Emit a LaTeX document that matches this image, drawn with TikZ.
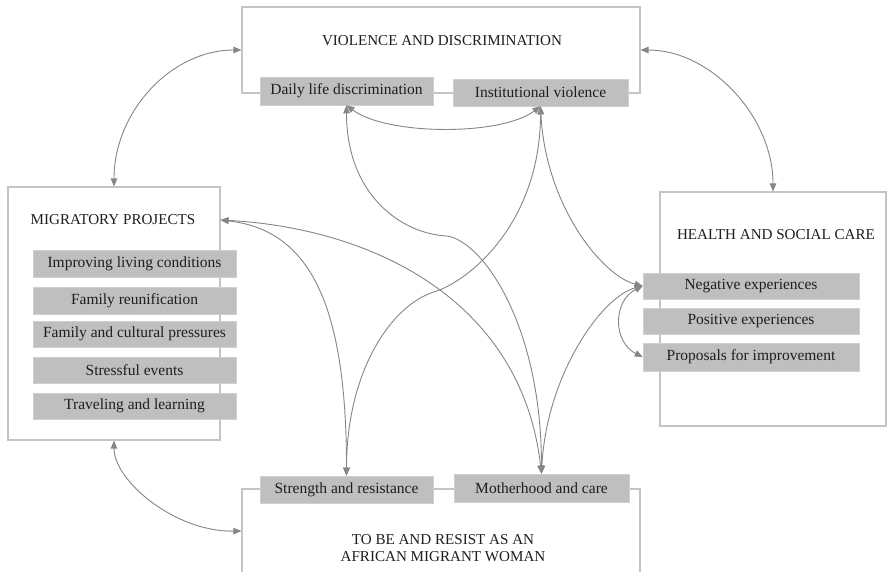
\documentclass[tikz,border=0pt]{standalone}
\usepackage{fontspec}
\setmainfont{Liberation Serif}
\usetikzlibrary{arrows.meta}
\definecolor{boxline}{HTML}{C4C4C4}
\definecolor{itemfill}{HTML}{BFBFBF}
\definecolor{itemline}{HTML}{CFCFCF}
\definecolor{arr}{HTML}{868686}
\definecolor{txt}{HTML}{1E1E1E}
\begin{document}
\begin{tikzpicture}[x=1pt,y=-1pt,
  bigbox/.style={draw=boxline,line width=1.1pt,inner sep=0pt,fill=white},
  item/.style={fill=itemfill,draw=itemline,line width=0.6pt,text=txt,inner sep=0pt,
    font=\fontsize{15.5}{18}\selectfont},
  title/.style={text=txt,align=center,font=\fontsize{15.1}{17}\selectfont},
  link/.style={draw=arr,line width=0.9pt,
    {Triangle[length=8pt,width=6.5pt]}-{Triangle[length=8pt,width=6.5pt]}}]
\clip (0,0) rectangle (888,571);
\fill[white] (0,0) rectangle (888,571);
% big boxes
\node[bigbox,minimum width=398pt,minimum height=86pt] (vd) at (441,50) {};
\node[bigbox,minimum width=212pt,minimum height=253pt] (mp) at (114,313.5) {};
\node[bigbox,minimum width=226pt,minimum height=234pt] (hs) at (773,309) {};
\node[bigbox,minimum width=398pt,minimum height=84pt] (tb) at (441,531) {};
% titles
\node[title] (vdt) at (442,41) {VIOLENCE AND DISCRIMINATION};
\node[title] (mpt) at (113,220) {MIGRATORY PROJECTS};
\node[title] (hst) at (776,235) {HEALTH AND SOCIAL CARE};
\node[title] (tbt) at (443,548.5) {TO BE AND RESIST AS AN\\AFRICAN MIGRANT WOMAN};
% items
\node[item,minimum width=173pt,minimum height=28pt] (daily) at (346.5,91) {Daily life discrimination};
\node[item,minimum width=175pt,minimum height=27pt] (inst) at (540.5,92.5) {Institutional violence};
\node[item,minimum width=203pt,minimum height=27pt] (m1) at (134.5,263.5) {Improving living conditions};
\node[item,minimum width=203pt,minimum height=27pt] (m2) at (134.5,300.5) {Family reunification};
\node[item,minimum width=203pt,minimum height=26pt] (m3) at (134.5,334) {Family and cultural pressures};
\node[item,minimum width=203pt,minimum height=26pt] (m4) at (134.5,370) {Stressful events};
\node[item,minimum width=203pt,minimum height=26pt] (m5) at (134.5,406) {Traveling and learning};
\node[item,minimum width=216pt,minimum height=26pt] (neg) at (751,286) {Negative experiences};
\node[item,minimum width=216pt,minimum height=26pt] (pos) at (751,321) {Positive experiences};
\node[item,minimum width=216pt,minimum height=28pt] (prop) at (751,357) {Proposals for improvement};
\node[item,minimum width=173pt,minimum height=27pt] (str) at (346.5,489.5) {Strength and resistance};
\node[item,minimum width=175pt,minimum height=28pt] (moth) at (541.5,488) {Motherhood and care};
\coordinate (mpin) at (mp.east |- mpt);
% links between big boxes
\draw[link] (vd.west) .. controls +(-70,0) and +(0,-75) .. (mp.north);
\draw[link] (vd.east) .. controls +(70,0) and +(0,-75) .. (hs.north);
\draw[link] (mp.south) .. controls +(0,40) and +(-67,1) .. (tb.west);
% inner links
\draw[link] (daily.south) .. controls +(40,30) and +(-40,30) .. (inst.south);
\draw[link] (daily.south) .. controls +(0,90) and +(-45,-2) .. (447,236)
  .. controls +(35,5) and +(0,-150) .. (moth.north);
\draw[link] (inst.south) .. controls +(0,110) and +(40,-15) .. (437,291)
  .. controls +(-45,12) and +(0,-105) .. (str.north);
\draw[link] (inst.south) .. controls +(5,100) and +(-40,-10) .. (neg.west);
\draw[link] (moth.north) .. controls +(5,-100) and +(-40,10) .. (neg.west);
\draw[link] (neg.west) .. controls +(-30,15) and +(-30,-15) .. (prop.west);
\draw[link] (mpin) .. controls +(90,10) and +(0,-170) .. (str.north);
\draw[link] (mpin) .. controls +(150,8) and +(-20,-175) .. (moth.north);
\end{tikzpicture}
\end{document}
